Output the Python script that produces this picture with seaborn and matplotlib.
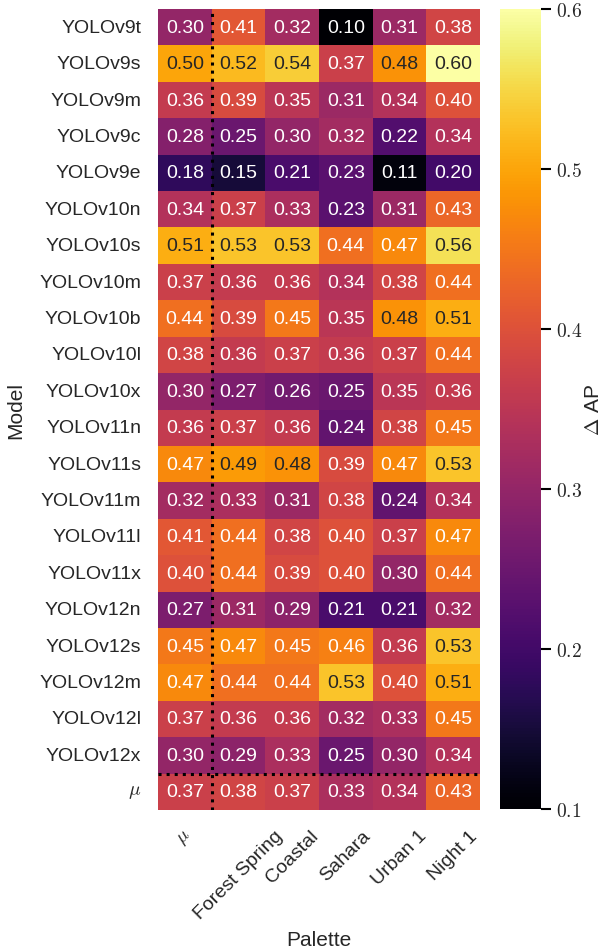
import numpy as np
import pandas as pd
import matplotlib
matplotlib.use("Agg")
import matplotlib.pyplot as plt
import seaborn as sns

models = ["YOLOv9t", "YOLOv9s", "YOLOv9m", "YOLOv9c", "YOLOv9e",
          "YOLOv10n", "YOLOv10s", "YOLOv10m", "YOLOv10b", "YOLOv10l", "YOLOv10x",
          "YOLOv11n", "YOLOv11s", "YOLOv11m", "YOLOv11l", "YOLOv11x",
          "YOLOv12n", "YOLOv12s", "YOLOv12m", "YOLOv12l", "YOLOv12x"]
palettes = ["Forest Spring", "Coastal", "Sahara", "Urban 1", "Night 1"]

mu_col = [0.30, 0.50, 0.36, 0.28, 0.18, 0.34, 0.51, 0.37, 0.44, 0.38, 0.30,
          0.36, 0.47, 0.32, 0.41, 0.40, 0.27, 0.45, 0.47, 0.37, 0.30]
forest_spring = [0.41, 0.52, 0.39, 0.25, 0.15, 0.37, 0.53, 0.36, 0.39, 0.36, 0.27,
                 0.37, 0.49, 0.33, 0.44, 0.44, 0.31, 0.47, 0.44, 0.36, 0.29]
coastal = [0.32, 0.54, 0.35, 0.30, 0.21, 0.33, 0.53, 0.36, 0.45, 0.37, 0.26,
           0.36, 0.48, 0.31, 0.38, 0.39, 0.29, 0.45, 0.44, 0.36, 0.33]
sahara = [0.10, 0.37, 0.31, 0.32, 0.23, 0.23, 0.44, 0.34, 0.35, 0.36, 0.25,
          0.24, 0.39, 0.38, 0.40, 0.40, 0.21, 0.46, 0.53, 0.32, 0.25]
urban_1 = [0.31, 0.48, 0.34, 0.22, 0.11, 0.31, 0.47, 0.38, 0.48, 0.37, 0.35,
           0.38, 0.47, 0.24, 0.37, 0.30, 0.21, 0.36, 0.40, 0.33, 0.30]
night_1 = [0.38, 0.60, 0.40, 0.34, 0.20, 0.43, 0.56, 0.44, 0.51, 0.44, 0.36,
           0.45, 0.53, 0.34, 0.47, 0.44, 0.32, 0.53, 0.51, 0.45, 0.34]
mu_row = [0.37, 0.38, 0.37, 0.33, 0.34, 0.43]

cbar_ticks = [0.1, 0.2, 0.3, 0.4, 0.5, 0.6]

row_labels = models + [r"$\mu$"]
col_labels = [r"$\mu$"] + palettes
data = pd.DataFrame({
    col_labels[0]: mu_col + [mu_row[0]],
    palettes[0]: forest_spring + [mu_row[1]],
    palettes[1]: coastal + [mu_row[2]],
    palettes[2]: sahara + [mu_row[3]],
    palettes[3]: urban_1 + [mu_row[4]],
    palettes[4]: night_1 + [mu_row[5]],
}, index=row_labels)

sns.set_style("white")
plt.rcParams["font.family"] = ["Liberation Sans", "DejaVu Sans"]
plt.rcParams["mathtext.fontset"] = "cm"
plt.rcParams["text.color"] = "#262626"
plt.rcParams["axes.labelcolor"] = "#262626"
plt.rcParams["xtick.color"] = "#262626"
plt.rcParams["ytick.color"] = "#262626"

W, H = 606, 953
fig = plt.figure(figsize=(W / 100, H / 100), dpi=100)
ax = fig.add_axes([158 / W, 1 - 811 / H, 322 / W, 801 / H])
cax = fig.add_axes([500 / W, 1 - 810 / H, 41 / W, 800 / H])

sns.heatmap(data, ax=ax, cbar_ax=cax, cmap="inferno", vmin=0.1, vmax=0.6,
            annot=True, fmt=".2f", annot_kws={"fontsize": 14},
            cbar_kws={"ticks": cbar_ticks})

ax.axvline(1, color="black", linestyle=":", lw=2.2)
ax.axhline(len(models), color="black", linestyle=":", lw=2.2)

ax.set_xticklabels(col_labels, rotation=45, ha="center", fontsize=14)
ax.set_yticklabels(row_labels, rotation=0, fontsize=14)
ax.tick_params(axis="x", length=0, pad=12)
ax.tick_params(axis="y", length=0, pad=12)
ax.set_xlabel("Palette", fontsize=15, labelpad=6)
ax.set_ylabel("Model", fontsize=15, labelpad=10)

cax.set_yticks(cbar_ticks)
cax.set_yticklabels([f"${t:.1f}$" for t in cbar_ticks], fontsize=14)
cax.tick_params(axis="y", length=7, width=1.5, color="black", pad=4, right=True)
cax.set_ylabel(r"$\Delta$ AP", fontsize=15, labelpad=1)
for s in cax.spines.values():
    s.set_visible(False)

fig.savefig("out.png", dpi=100)
